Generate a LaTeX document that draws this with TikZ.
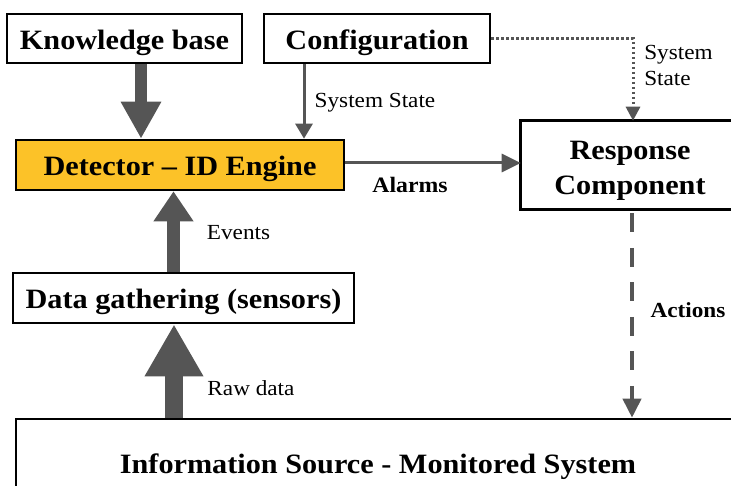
\documentclass[tikz,border=0pt]{standalone}
\usepackage{fontspec}
\setmainfont{Liberation Serif}[FakeStretch=1.08]
\usetikzlibrary{arrows.meta}
\definecolor{arrgray}{RGB}{85,85,85}
\definecolor{detyellow}{RGB}{252,194,40}
\begin{document}
\begin{tikzpicture}[x=1pt,y=-1pt,
  box/.style={draw=black,line width=2.6pt,inner sep=0pt,align=center,text height=22pt,text depth=0pt,
    font=\fontsize{28}{35}\selectfont\bfseries},
  lbl/.style={font=\fontsize{21.5}{26}\selectfont,inner sep=0pt,text depth=0pt},
  blbl/.style={font=\fontsize{22}{26}\selectfont\bfseries,inner sep=0pt,text depth=0pt}]
\useasboundingbox (0,0) rectangle (731,486);
\clip (0,0) rectangle (731,486);
% boxes
\node[box,minimum width=235pt,minimum height=49pt] (kb) at (124.5,38.5) {Knowledge base};
\node[box,minimum width=226pt,minimum height=49pt] (conf) at (377,38.5) {Configuration};
\node[box,fill=detyellow,minimum width=328pt,minimum height=50pt] (det) at (180,165) {Detector -- ID Engine};
\node[box,draw=none,text height=60pt,minimum width=216pt,minimum height=86pt] (resp) at (630,165) {Response\\Component};
\draw[black,line width=2.6pt] ([xshift=60pt]resp.north east) -- (resp.north west)
  -- (resp.south west) -- ([xshift=60pt]resp.south east);
\node[box,minimum width=341pt,minimum height=50pt] (data) at (183.5,298) {Data gathering (sensors)};
\node[box,minimum width=724pt,minimum height=86pt] (info) at (378,462) {Information Source - Monitored System};
% arrows
\draw[arrgray,line width=12pt,-{Triangle[width=38pt,length=37pt]}]
  ([xshift=16.5pt]kb.south) -- ([xshift=16.5pt]kb.south |- det.north);
\draw[arrgray,line width=3pt,-{Triangle[width=17pt,length=15pt]}]
  ([xshift=-73pt]conf.south) -- ([xshift=-73pt]conf.south |- det.north);
\draw[arrgray,line width=3pt,-{Triangle[width=18pt,length=19pt]}]
  ([yshift=2pt]det.east) -- ([yshift=2pt]resp.west);
\draw[arrgray,line width=3pt,dash pattern=on 2.5pt off 2.5pt,-{Triangle[width=14pt,length=14pt]}]
  (conf.east) -| ([xshift=3pt]resp.north);
\draw[arrgray,line width=4pt,dash pattern=on 19pt off 15.5pt,-{Triangle[width=18pt,length=19pt]}]
  ([xshift=2pt,yshift=-4pt]resp.south) -- ([xshift=2pt]resp.south |- info.north);
\draw[arrgray,line width=13pt,-{Triangle[width=38pt,length=30pt]}]
  ([xshift=-10pt]data.north) -- ([xshift=-10pt]data.north |- det.south);
\draw[arrgray,line width=18pt,-{Triangle[width=55pt,length=52pt]}]
  ([xshift=-204pt]info.north) -- ([xshift=-204pt]info.north |- data.south);
% labels
\node[lbl] (ss1) at (375,100) {System State};
\node[lbl,align=left] (ss2) at (678.5,65) {System\\State};
\node[blbl] (alarms) at (410,185) {Alarms};
\node[lbl] (events) at (238.5,232) {Events};
\node[lbl] (raw) at (251,388) {Raw data};
\node[blbl,font=\fontsize{21.5}{26}\selectfont\bfseries] (actions) at (688,310) {Actions};
\end{tikzpicture}
\end{document}
